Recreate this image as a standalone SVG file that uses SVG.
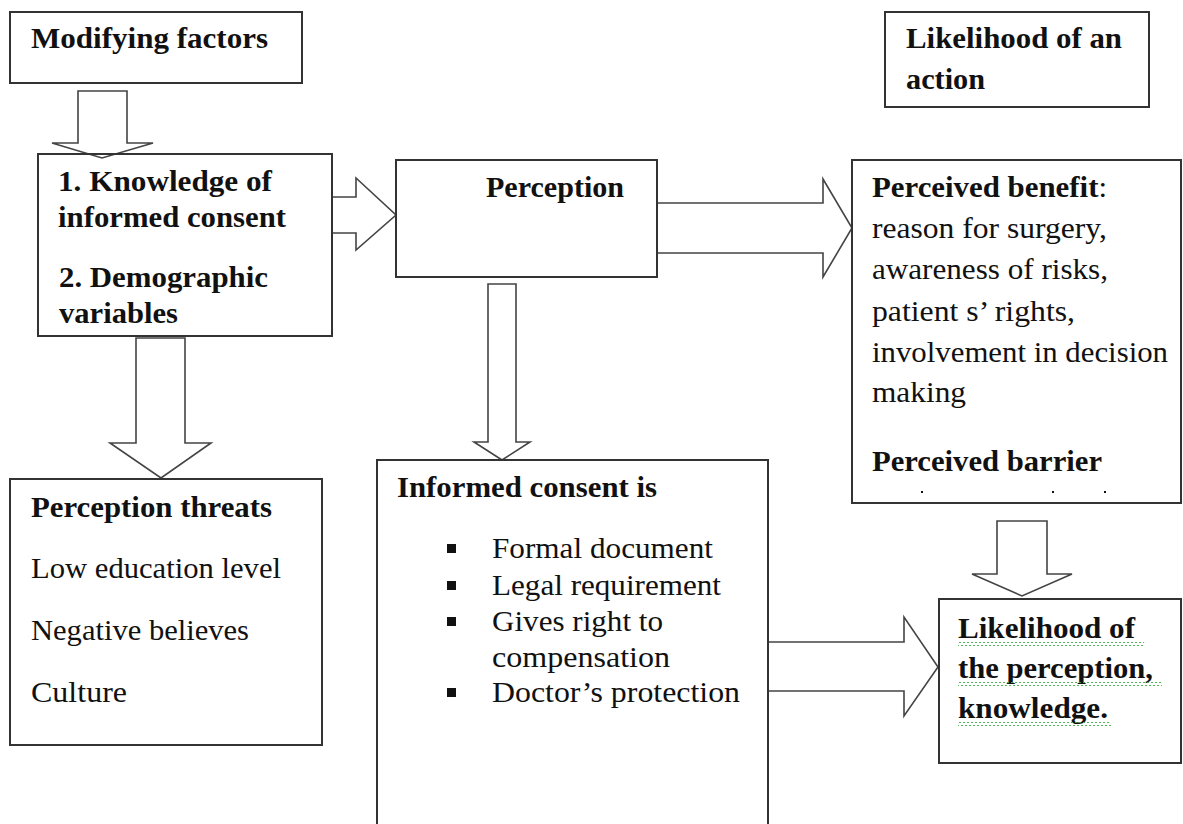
<svg xmlns="http://www.w3.org/2000/svg" width="1183" height="824" viewBox="0 0 1183 824">
<defs>
<style>
.box{fill:none;stroke:#333;stroke-width:2}
.arr{fill:#fff;stroke:#444;stroke-width:1.6;stroke-linejoin:miter}
.b{font-weight:bold}
.r{font-weight:normal}
.sq{fill:#111}
.wave{fill:url(#wv)}
</style>
<pattern id="wv" width="4" height="4" patternUnits="userSpaceOnUse">
<path d="M0,3 L2,1 L4,3" fill="none" stroke="#3cb043" stroke-width="0.9"/>
</pattern>
</defs>
<rect width="1183" height="824" fill="#fff"/>
<g id="connectors">
<polygon class="arr" points="78,91 127,91 127,143 153,143 102,158 52,143 78,143"/>
<polygon class="arr" points="332,197 356,197 356,178 396,215 356,250 356,233 332,233"/>
<polygon class="arr" points="657,203 823,203 823,179 852,228 823,277 823,253 657,253"/>
<polygon class="arr" points="488,284 516,284 516,442 530,442 502,460 474,442 488,442"/>
<polygon class="arr" points="136,338 185,338 185,443 211,443 161,478 110,443 136,443"/>
<polygon class="arr" points="768,642 904,642 904,617 938,667 904,716 904,691 768,691"/>
<polygon class="arr" points="997,521 1047,521 1047,574 1072,574 1022,596 972,574 997,574"/>
</g>
<g font-family="Liberation Serif, Times New Roman, serif" font-size="30" fill="#111">
<g id="modifying-factors">
<rect class="box" x="10" y="12" width="292" height="71"/>
<text class="b" x="31" y="48" textLength="237" lengthAdjust="spacingAndGlyphs">Modifying factors</text>
</g>
<g id="knowledge">
<rect class="box" x="38" y="154" width="294" height="182"/>
<text class="b" x="58" y="191" textLength="214" lengthAdjust="spacingAndGlyphs">1. Knowledge of</text>
<text class="b" x="58" y="227" textLength="228" lengthAdjust="spacingAndGlyphs">informed consent</text>
<text class="b" x="59" y="287" textLength="209" lengthAdjust="spacingAndGlyphs">2. Demographic</text>
<text class="b" x="59" y="323" textLength="119" lengthAdjust="spacingAndGlyphs">variables</text>
</g>
<g id="perception">
<rect class="box" x="396" y="160" width="261" height="117"/>
<text class="b" x="486" y="197" textLength="138" lengthAdjust="spacingAndGlyphs">Perception</text>
</g>
<g id="perceived-benefit">
<rect class="box" x="852" y="160" width="329" height="343"/>
<text class="b" x="872" y="197" textLength="235" lengthAdjust="spacingAndGlyphs">Perceived  benefit<tspan class="r">:</tspan></text>
<text class="r" x="872" y="238" textLength="235" lengthAdjust="spacingAndGlyphs">reason for surgery,</text>
<text class="r" x="872" y="279" textLength="236" lengthAdjust="spacingAndGlyphs">awareness of risks,</text>
<text class="r" x="872" y="321" textLength="203" lengthAdjust="spacingAndGlyphs">patient s’ rights,</text>
<text class="r" x="872" y="362" textLength="296" lengthAdjust="spacingAndGlyphs">involvement in decision</text>
<text class="r" x="872" y="402" textLength="94" lengthAdjust="spacingAndGlyphs">making</text>
<text class="b" x="872" y="471" textLength="230" lengthAdjust="spacingAndGlyphs">Perceived  barrier</text>
<rect class="sq" x="921" y="491" width="2" height="2"/>
<rect class="sq" x="1052" y="491" width="2" height="2"/>
<rect class="sq" x="1104" y="491" width="2" height="2"/>
</g>
<g id="likelihood-action">
<rect class="box" x="885" y="12" width="264" height="95"/>
<text class="b" x="906" y="48" textLength="216" lengthAdjust="spacingAndGlyphs">Likelihood of an</text>
<text class="b" x="906" y="89" textLength="79" lengthAdjust="spacingAndGlyphs">action</text>
</g>
<g id="perception-threats">
<rect class="box" x="10" y="479" width="312" height="266"/>
<text class="b" x="31" y="517" textLength="241" lengthAdjust="spacingAndGlyphs">Perception  threats</text>
<text class="r" x="31" y="578" textLength="250" lengthAdjust="spacingAndGlyphs">Low education level</text>
<text class="r" x="31" y="640" textLength="218" lengthAdjust="spacingAndGlyphs">Negative believes</text>
<text class="r" x="31" y="702" textLength="96" lengthAdjust="spacingAndGlyphs">Culture</text>
</g>
<g id="informed-consent">
<rect class="box" x="377" y="460" width="391" height="380"/>
<text class="b" x="397" y="497" textLength="260" lengthAdjust="spacingAndGlyphs">Informed consent is</text>
<rect class="sq" x="447" y="544" width="9" height="9"/>
<text class="r" x="492" y="558" textLength="221" lengthAdjust="spacingAndGlyphs">Formal document</text>
<rect class="sq" x="447" y="581" width="9" height="9"/>
<text class="r" x="492" y="595" textLength="229" lengthAdjust="spacingAndGlyphs">Legal requirement</text>
<rect class="sq" x="447" y="617" width="9" height="9"/>
<text class="r" x="492" y="631" textLength="171" lengthAdjust="spacingAndGlyphs">Gives right to</text>
<text class="r" x="492" y="667" textLength="178" lengthAdjust="spacingAndGlyphs">compensation</text>
<rect class="sq" x="447" y="688" width="9" height="9"/>
<text class="r" x="492" y="702" textLength="248" lengthAdjust="spacingAndGlyphs">Doctor’s protection</text>
</g>
<g id="likelihood-perception">
<rect class="box" x="939" y="599" width="242" height="164"/>
<text class="b" x="958" y="638" textLength="177" lengthAdjust="spacingAndGlyphs">Likelihood of</text>
<rect class="wave" x="958" y="642" width="186" height="4"/>
<text class="b" x="958" y="678" textLength="195" lengthAdjust="spacingAndGlyphs">the perception,</text>
<rect class="wave" x="958" y="682" width="204" height="4"/>
<text class="b" x="958" y="718" textLength="150" lengthAdjust="spacingAndGlyphs">knowledge.</text>
<rect class="wave" x="958" y="722" width="153" height="4"/>
</g>
</g>
</svg>
